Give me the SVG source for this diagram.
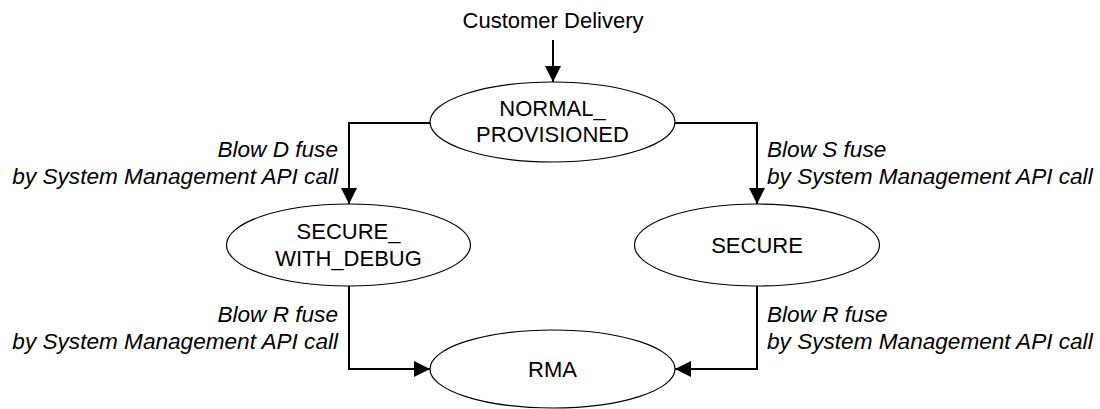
<svg xmlns="http://www.w3.org/2000/svg" width="1100" height="409" viewBox="0 0 1100 409">
  <defs>
    <style>
      .state { fill: #ffffff; stroke: #000000; stroke-width: 1.2; }
      .name { font-family: "Liberation Sans", Arial, sans-serif; font-size: 22px; fill: #000000; text-anchor: middle; }
      .label { font-family: "Liberation Sans", Arial, sans-serif; font-size: 22.6px; font-style: italic; fill: #000000; }
      .edge { fill: none; stroke: #000000; stroke-width: 2; }
    </style>
    <marker id="arrow" viewBox="0 0 16 16" refX="16" refY="8" markerWidth="16" markerHeight="16" markerUnits="userSpaceOnUse" orient="auto">
      <path d="M0,0 L16,8 L0,16 Z" fill="#000000"/>
    </marker>
  </defs>
  <rect width="1100" height="409" fill="#ffffff"/>

  <!-- transitions -->
  <g id="connectors">
    <path class="edge" d="M553,40 L553,82" marker-end="url(#arrow)"/>
    <path class="edge" d="M430,123 L349,123 L349,204" marker-end="url(#arrow)"/>
    <path class="edge" d="M675,123 L757,123 L757,204" marker-end="url(#arrow)"/>
    <path class="edge" d="M349,286 L349,369 L430,369" marker-end="url(#arrow)"/>
    <path class="edge" d="M757,286 L757,369 L675,369" marker-end="url(#arrow)"/>
  </g>

  <!-- transition labels -->
  <g id="labels">
    <text class="name" x="553" y="28">Customer Delivery</text>
    <text class="label" x="338" y="157" text-anchor="end">Blow D fuse</text>
    <text class="label" x="338" y="184" text-anchor="end">by System Management API call</text>
    <text class="label" x="767" y="157">Blow S fuse</text>
    <text class="label" x="767" y="184">by System Management API call</text>
    <text class="label" x="338" y="322" text-anchor="end">Blow R fuse</text>
    <text class="label" x="338" y="349" text-anchor="end">by System Management API call</text>
    <text class="label" x="767" y="322">Blow R fuse</text>
    <text class="label" x="767" y="349">by System Management API call</text>
  </g>

  <g id="normal-provisioned">
    <ellipse class="state" cx="552.5" cy="122" rx="122.5" ry="40"/>
    <text class="name" x="552.5" y="116">NORMAL_</text>
    <text class="name" x="552.5" y="142">PROVISIONED</text>
  </g>

  <g id="secure-with-debug">
    <ellipse class="state" cx="348.5" cy="245" rx="122" ry="41"/>
    <text class="name" x="348.5" y="239">SECURE_</text>
    <text class="name" x="348.5" y="266">WITH_DEBUG</text>
  </g>

  <g id="secure">
    <ellipse class="state" cx="757" cy="245" rx="122.5" ry="41"/>
    <text class="name" x="757" y="253">SECURE</text>
  </g>

  <g id="rma">
    <ellipse class="state" cx="552.5" cy="369" rx="122.5" ry="39"/>
    <text class="name" x="552.5" y="377">RMA</text>
  </g>
</svg>
